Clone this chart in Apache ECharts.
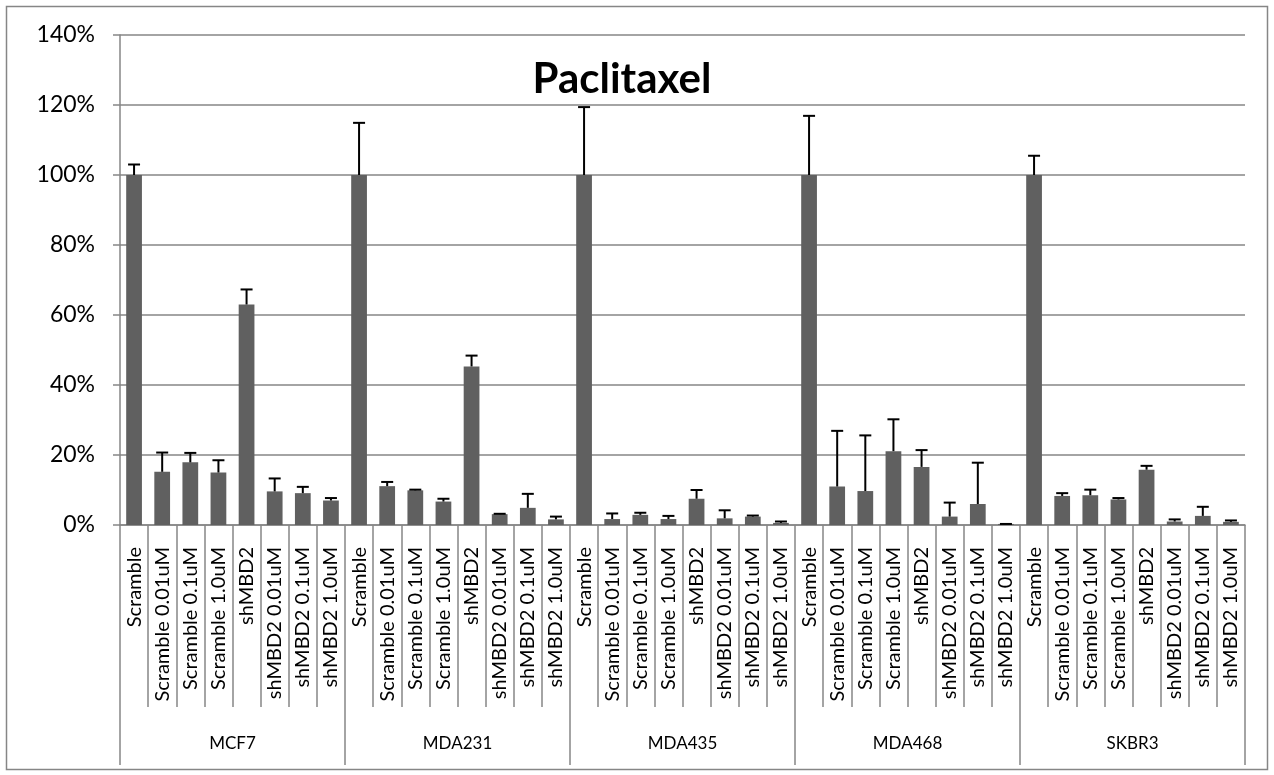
<!DOCTYPE html>
<html>
<head>
<meta charset="utf-8">
<script src="https://cdn.jsdelivr.net/npm/echarts@6/dist/echarts.min.js"></script>
<style>
  html, body { margin: 0; padding: 0; background: #fff; }
  #chart { width: 1274px; height: 775px; }
</style>
</head>
<body>
<div id="chart"></div>
<script>
// Cell lines (outer groups) and treatments (inner categories)
const cellLines = ['MCF7', 'MDA231', 'MDA435', 'MDA468', 'SKBR3'];
const treatments = ['Scramble', 'Scramble 0.01uM', 'Scramble 0.1uM', 'Scramble 1.0uM',
                    'shMBD2', 'shMBD2 0.01uM', 'shMBD2 0.1uM', 'shMBD2 1.0uM'];

// Relative viability (%) per cell line, in treatment order
const mcf7Values   = [100, 15.2, 17.9, 15.0, 63.0, 9.6, 9.1, 7.0];
const mda231Values = [100, 11.1, 9.9, 6.7, 45.3, 3.1, 4.9, 1.6];
const mda435Values = [100, 1.7, 2.9, 1.7, 7.5, 1.9, 2.4, 0.6];
const mda468Values = [100, 11.0, 9.7, 21.1, 16.6, 2.4, 6.0, 0.3];
const skbr3Values  = [100, 8.3, 8.5, 7.3, 15.8, 1.0, 2.6, 0.9];

// Upper error (%) per cell line, in treatment order
const mcf7Errors   = [3.0, 5.5, 2.7, 3.5, 4.3, 3.7, 1.8, 0.7];
const mda231Errors = [14.9, 1.2, 0.2, 0.8, 3.1, 0.1, 4.0, 0.8];
const mda435Errors = [19.4, 1.6, 0.6, 0.9, 2.5, 2.3, 0.3, 0.4];
const mda468Errors = [16.9, 15.9, 15.9, 9.1, 4.8, 4.0, 11.8, 0.0];
const skbr3Errors  = [5.5, 0.8, 1.6, 0.4, 1.1, 0.6, 2.6, 0.4];

// Y axis ticks (%)
const yTicks = [0, 20, 40, 60, 80, 100, 120, 140];

const valueSets = [mcf7Values, mda231Values, mda435Values, mda468Values, skbr3Values];
const errorSets = [mcf7Errors, mda231Errors, mda435Errors, mda468Errors, skbr3Errors];

const categories = [];
const barData = [];
const errData = [];
cellLines.forEach((cl, g) => {
  treatments.forEach((t, i) => {
    const idx = categories.length;
    categories.push(t);
    barData.push(valueSets[g][i]);
    errData.push([idx, valueSets[g][i], valueSets[g][i] + errorSets[g][i]]);
  });
});

const FONT = 'Lato';
const GRID = '#868686';

const chart = echarts.init(document.getElementById('chart'), null, { renderer: 'canvas' });
chart.setOption({
  animation: false,
  backgroundColor: '#fff',
  title: {
    text: 'Paclitaxel',
    left: 617,
    top: 74,
    textAlign: 'center',
    textVerticalAlign: 'middle',
    textStyle: { fontFamily: FONT, fontWeight: 'bold', fontSize: 42, color: '#000' }
  },
  grid: { left: 120, right: 29, top: 35, bottom: 250, containLabel: false },
  xAxis: [
    {
      type: 'category',
      data: categories,
      position: 'bottom',
      axisLine: { lineStyle: { color: GRID, width: 1.5 } },
      axisTick: { show: true, alignWithLabel: false, length: 182, lineStyle: { color: GRID, width: 1.5 } },
      axisLabel: {
        interval: 0, rotate: 90, margin: 22,
        fontFamily: FONT, fontSize: 20, color: '#000'
      },
      splitLine: { show: false }
    },
    {
      type: 'category',
      data: cellLines,
      position: 'bottom',
      offset: 0,
      axisLine: { show: false },
      axisTick: { show: true, length: 240, lineStyle: { color: GRID, width: 1.5 } },
      axisLabel: { interval: 0, margin: 210, fontFamily: FONT, fontSize: 17, color: '#000' },
      splitLine: { show: false }
    }
  ],
  yAxis: {
    type: 'value',
    min: yTicks[0],
    max: yTicks[yTicks.length - 1],
    interval: 20,
    axisLine: { show: true, lineStyle: { color: GRID, width: 1.5 } },
    axisTick: { show: true, length: 7, lineStyle: { color: GRID, width: 1.5 } },
    axisLabel: {
      margin: 25, fontFamily: FONT, fontSize: 23, color: '#000',
      formatter: v => v + '%'
    },
    splitLine: { show: true, lineStyle: { color: GRID, width: 1.5 } }
  },
  series: [
    {
      type: 'bar',
      xAxisIndex: 0,
      data: barData,
      barWidth: '56%',
      itemStyle: { color: '#606060' },
      z: 2
    },
    {
      type: 'custom',
      xAxisIndex: 0,
      data: errData,
      z: 3,
      renderItem: function (params, api) {
        const idx = api.value(0);
        const base = api.coord([idx, api.value(1)]);
        const top = api.coord([idx, api.value(2)]);
        const half = 6;
        const style = { stroke: '#000', lineWidth: 2 };
        return {
          type: 'group',
          children: [
            { type: 'line', shape: { x1: base[0], y1: base[1], x2: top[0], y2: top[1] }, style: style },
            { type: 'line', shape: { x1: top[0] - half, y1: top[1], x2: top[0] + half, y2: top[1] }, style: style }
          ]
        };
      }
    }
  ],
  graphic: [
    {
      type: 'rect',
      shape: { x: 6.5, y: 6.5, width: 1261, height: 763 },
      style: { fill: 'none', stroke: GRID, lineWidth: 1.5 },
      silent: true
    }
  ]
});
</script>
</body>
</html>
